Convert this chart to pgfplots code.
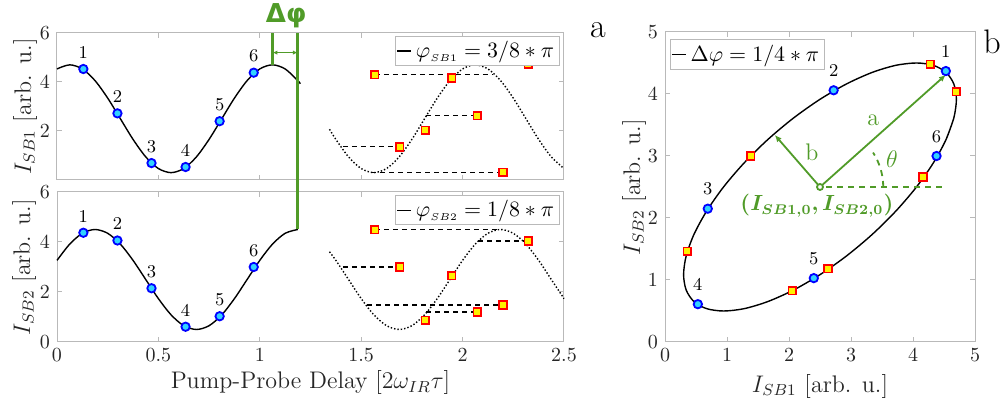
\documentclass[border=0pt]{standalone}
\usepackage{pgfplots}
\pgfplotsset{compat=1.18}
\usepackage{fontspec}
\usepackage{bm}
\usetikzlibrary{arrows.meta}
\newfontfamily\dvs{DejaVu Sans}
\definecolor{grn}{RGB}{80,155,40}
\definecolor{mkfill}{RGB}{50,210,255}

\pgfplotsset{
  matlab/.style={
    scale only axis, anchor=south west, clip=false,
    axis line style={gray!55, line width=0.5pt},
    tick style={gray!55, line width=0.5pt},
    major tick length=2.5pt,
    tick label style={font=\fontsize{10}{12}\selectfont, text=black!85},
    label style={font=\fontsize{12}{14}\selectfont, text=black!85},
    legend style={draw=gray!55, fill=white, font=\fontsize{11}{12}\selectfont,
      inner sep=0.5pt, legend cell align=left},
    legend image code/.code={\draw[black, line width=0.6pt] (0pt,0pt) -- (7pt,0pt);},
  },
  bluepts/.style={only marks, mark=*, mark size=2.1pt,
    mark options={draw=blue, fill=mkfill, line width=0.9pt},
    nodes near coords, point meta=explicit symbolic,
    every node near coord/.append style={font=\fontsize{9}{10}\selectfont, text=black, anchor=south, yshift=#1}},
  redpts/.style={only marks, mark=square*, mark size=1.9pt,
    mark options={draw=red, fill=yellow, line width=0.8pt}},
  guide/.style={forget plot, black, line width=0.55pt, dash pattern=on 2.5pt off 2pt},
}

\begin{document}
\begin{tikzpicture}
\useasboundingbox (0,0) rectangle (501.5pt,200pt);

% --- top left: SB1 ---
\begin{axis}[matlab, at={(28.5pt,110pt)}, width=253.5pt, height=73.5pt,
  xmin=0, xmax=2.5, ymin=0, ymax=6,
  xtick={0,0.5,1,1.5,2,2.5}, xticklabels={,,,,,},
  ytick={0,2,4,6}, yticklabels={,2,4,6},
  ylabel={$I_{SB1}$ [arb. u.]},
  ylabel style={at={(axis description cs:-0.063,0.5)}, anchor=center, inner sep=0pt},
  legend style={at={(rel axis cs:0.991,0.98)}, anchor=north east}]
\addplot[black, line width=0.7pt, smooth] coordinates {
(0,4.533)(0.0625,4.7)(0.125,4.533)(0.1875,4.056)(0.25,3.342)(0.3125,2.5)(0.375,1.658)
(0.4375,0.944)(0.5,0.467)(0.5625,0.3)(0.625,0.467)(0.6875,0.944)(0.75,1.658)(0.8125,2.5)
(0.875,3.342)(0.9375,4.056)(1,4.533)(1.0625,4.7)(1.125,4.533)(1.1875,4.056)(1.2,3.93)};
\addlegendentry{$\varphi_{\scriptscriptstyle SB1}=3/8*\pi$}
\addplot[forget plot, black, densely dotted, line width=0.7pt, smooth] coordinates {
(1.34375,2.071)(1.375,1.658)(1.4375,0.944)(1.5,0.467)(1.5625,0.3)(1.625,0.467)(1.6875,0.944)
(1.75,1.658)(1.8125,2.5)(1.875,3.342)(1.9375,4.056)(2,4.533)(2.0625,4.7)(2.125,4.533)
(2.1875,4.056)(2.25,3.342)(2.3125,2.5)(2.375,1.658)(2.4375,0.944)(2.5,0.467)};
\addplot[guide] coordinates {(2.05,4.72)(2.323,4.72)};
\addplot[guide] coordinates {(1.567,4.30)(2.15,4.30)};
\addplot[guide] coordinates {(1.82,2.62)(2.072,2.62)};
\addplot[guide] coordinates {(1.41,1.35)(1.690,1.35)};
\addplot[guide] coordinates {(1.55,0.31)(2.199,0.31)};
\addplot[redpts, forget plot] coordinates {
(1.567,4.30)(1.690,1.35)(1.816,2.03)(1.946,4.16)(2.072,2.62)(2.199,0.31)(2.323,4.72)};
\addplot[bluepts=1.5pt, forget plot] coordinates {
(0.13,4.53)[1] (0.298,2.72)[2] (0.466,0.69)[3] (0.634,0.53)[4] (0.802,2.40)[5] (0.97,4.38)[6]};
\draw[grn, line width=1.4pt] (axis cs:1.0625,6) -- (axis cs:1.0625,4.7);
\coordinate (gtop) at (axis cs:1.1875,6);
\draw[grn, line width=0.6pt, {Latex[length=2.5pt,width=2.2pt]}-{Latex[length=2.5pt,width=2.2pt]}]
  (axis cs:1.0625,5.2) -- (axis cs:1.1875,5.2);
\node[grn, font=\dvs\bfseries\fontsize{13}{14}\selectfont] at (axis cs:1.13,6.72) {Δφ};
\end{axis}

% --- bottom left: SB2 ---
\begin{axis}[matlab, at={(28.5pt,29pt)}, width=253.5pt, height=75pt,
  xmin=0, xmax=2.5, ymin=0, ymax=6,
  xtick={0,0.5,1,1.5,2,2.5}, ytick={0,2,4,6},
  xlabel={Pump-Probe Delay $[2\omega_{IR}\tau]$},
  xlabel style={at={(axis description cs:0.5,-0.27)}, anchor=center, inner sep=0pt},
  ylabel={$I_{SB2}$ [arb. u.]},
  ylabel style={at={(axis description cs:-0.065,0.5)}, anchor=center, inner sep=0pt},
  legend style={at={(rel axis cs:0.991,0.98)}, anchor=north east}]
\addplot[black, line width=0.7pt, smooth] coordinates {
(0,3.265)(0.0625,3.914)(0.125,4.348)(0.1875,4.5)(0.25,4.348)(0.3125,3.914)(0.375,3.265)
(0.4375,2.5)(0.5,1.735)(0.5625,1.086)(0.625,0.652)(0.6875,0.5)(0.75,0.652)(0.8125,1.086)
(0.875,1.735)(0.9375,2.5)(1,3.265)(1.0625,3.914)(1.125,4.348)(1.1875,4.5)};
\addlegendentry{$\varphi_{\scriptscriptstyle SB2}=1/8*\pi$}
\addplot[forget plot, black, densely dotted, line width=0.7pt, smooth] coordinates {
(1.34375,3.611)(1.375,3.265)(1.4375,2.5)(1.5,1.735)(1.5625,1.086)(1.625,0.652)(1.6875,0.5)
(1.75,0.652)(1.8125,1.086)(1.875,1.735)(1.9375,2.5)(2,3.265)(2.0625,3.914)(2.125,4.348)
(2.1875,4.5)(2.25,4.348)(2.3125,3.914)(2.375,3.265)(2.4375,2.5)(2.5,1.735)};
\addplot[guide] coordinates {(1.567,4.49)(2.17,4.49)};
\addplot[guide] coordinates {(2.077,4.04)(2.325,4.04)};
\addplot[guide] coordinates {(1.41,3.0)(1.690,3.0)};
\addplot[guide] coordinates {(1.53,1.48)(2.199,1.48)};
\addplot[guide] coordinates {(1.82,1.2)(2.072,1.2)};
\addplot[redpts, forget plot] coordinates {
(1.567,4.49)(1.690,3.0)(1.816,0.86)(1.946,2.65)(2.072,1.2)(2.199,1.48)(2.323,4.04)};
\addplot[bluepts=1.5pt, forget plot] coordinates {
(0.13,4.37)[1] (0.298,4.06)[2] (0.466,2.15)[3] (0.634,0.61)[4] (0.802,1.03)[5] (0.97,3.0)[6]};
\coordinate (gbot) at (axis cs:1.1875,4.5);
\end{axis}
\draw[grn, line width=1.4pt] (gtop) -- (gbot);

% --- right: ellipse ---
\begin{axis}[matlab, at={(332.5pt,29pt)}, width=155pt, height=155pt,
  xmin=0, xmax=5, ymin=0, ymax=5,
  xtick={0,1,2,3,4,5}, ytick={0,1,2,3,4,5},
  xlabel={$I_{SB1}$ [arb. u.]},
  xlabel style={at={(axis description cs:0.5,-0.142)}, anchor=center, inner sep=0pt},
  ylabel={$I_{SB2}$ [arb. u.]},
  ylabel style={at={(axis description cs:-0.1,0.5)}, anchor=center, inner sep=0pt},
  legend style={at={(rel axis cs:0.016,0.976)}, anchor=north west}]
\addplot[black, line width=0.7pt, smooth] coordinates {
(4.533,3.265)(4.658,3.611)(4.700,3.914)(4.658,4.163)(4.533,4.348)(4.329,4.462)(4.056,4.5)
(3.722,4.462)(3.342,4.348)(2.929,4.163)(2.5,3.914)(2.071,3.611)(1.658,3.265)(1.278,2.890)
(0.944,2.5)(0.671,2.110)(0.467,1.735)(0.342,1.389)(0.3,1.086)(0.342,0.837)(0.467,0.652)
(0.671,0.538)(0.944,0.5)(1.278,0.538)(1.658,0.652)(2.071,0.837)(2.5,1.086)(2.929,1.389)
(3.342,1.735)(3.722,2.110)(4.056,2.5)(4.329,2.890)(4.533,3.265)(4.658,3.611)};
\addlegendentry{$\Delta\varphi=1/4*\pi$}
\draw[grn, line width=0.9pt, -{Latex[length=3.5pt,width=3pt]}] (axis cs:2.5,2.5) -- (axis cs:4.53,4.31);
\draw[grn, line width=0.9pt, -{Latex[length=3.5pt,width=3pt]}] (axis cs:2.5,2.5) -- (axis cs:1.77,3.34);
\draw[grn, line width=0.9pt, dash pattern=on 3pt off 2.5pt] (axis cs:2.6,2.5) -- (axis cs:4.5,2.5);
\draw[grn, line width=0.9pt, dash pattern=on 3pt off 2.5pt] (axis cs:3.52,2.5) arc[start angle=0, end angle=33, radius=31.6pt];
\draw[grn, line width=0.9pt, fill=white] (axis cs:2.5,2.5) circle[radius=1.5pt];
\node[grn, font=\fontsize{12}{14}\selectfont] at (axis cs:3.36,3.58) {a};
\node[grn, font=\fontsize{12}{14}\selectfont] at (axis cs:2.37,3.06) {b};
\node[grn, font=\fontsize{12}{14}\selectfont] at (axis cs:3.66,2.95) {$\theta$};
\node[grn, font=\fontsize{10.5}{12}\selectfont] at (axis cs:2.45,2.2) {$\bm{(I_{SB1,0},I_{SB2,0})}$};
\addplot[redpts, forget plot] coordinates {
(4.28,4.48)(1.38,3.0)(2.05,0.83)(4.16,2.66)(2.63,1.18)(0.36,1.46)(4.70,4.04)};
\addplot[bluepts=3pt, forget plot] coordinates {
(4.53,4.37)[1] (2.72,4.06)[2] (0.69,2.15)[3] (0.53,0.61)[4] (2.40,1.03)[5] (4.38,3.0)[6]};
\end{axis}

\node[font=\fontsize{17}{18}\selectfont] at (299pt,185pt) {a};
\node[font=\fontsize{17}{18}\selectfont] at (496pt,179pt) {b};
\end{tikzpicture}
\end{document}
